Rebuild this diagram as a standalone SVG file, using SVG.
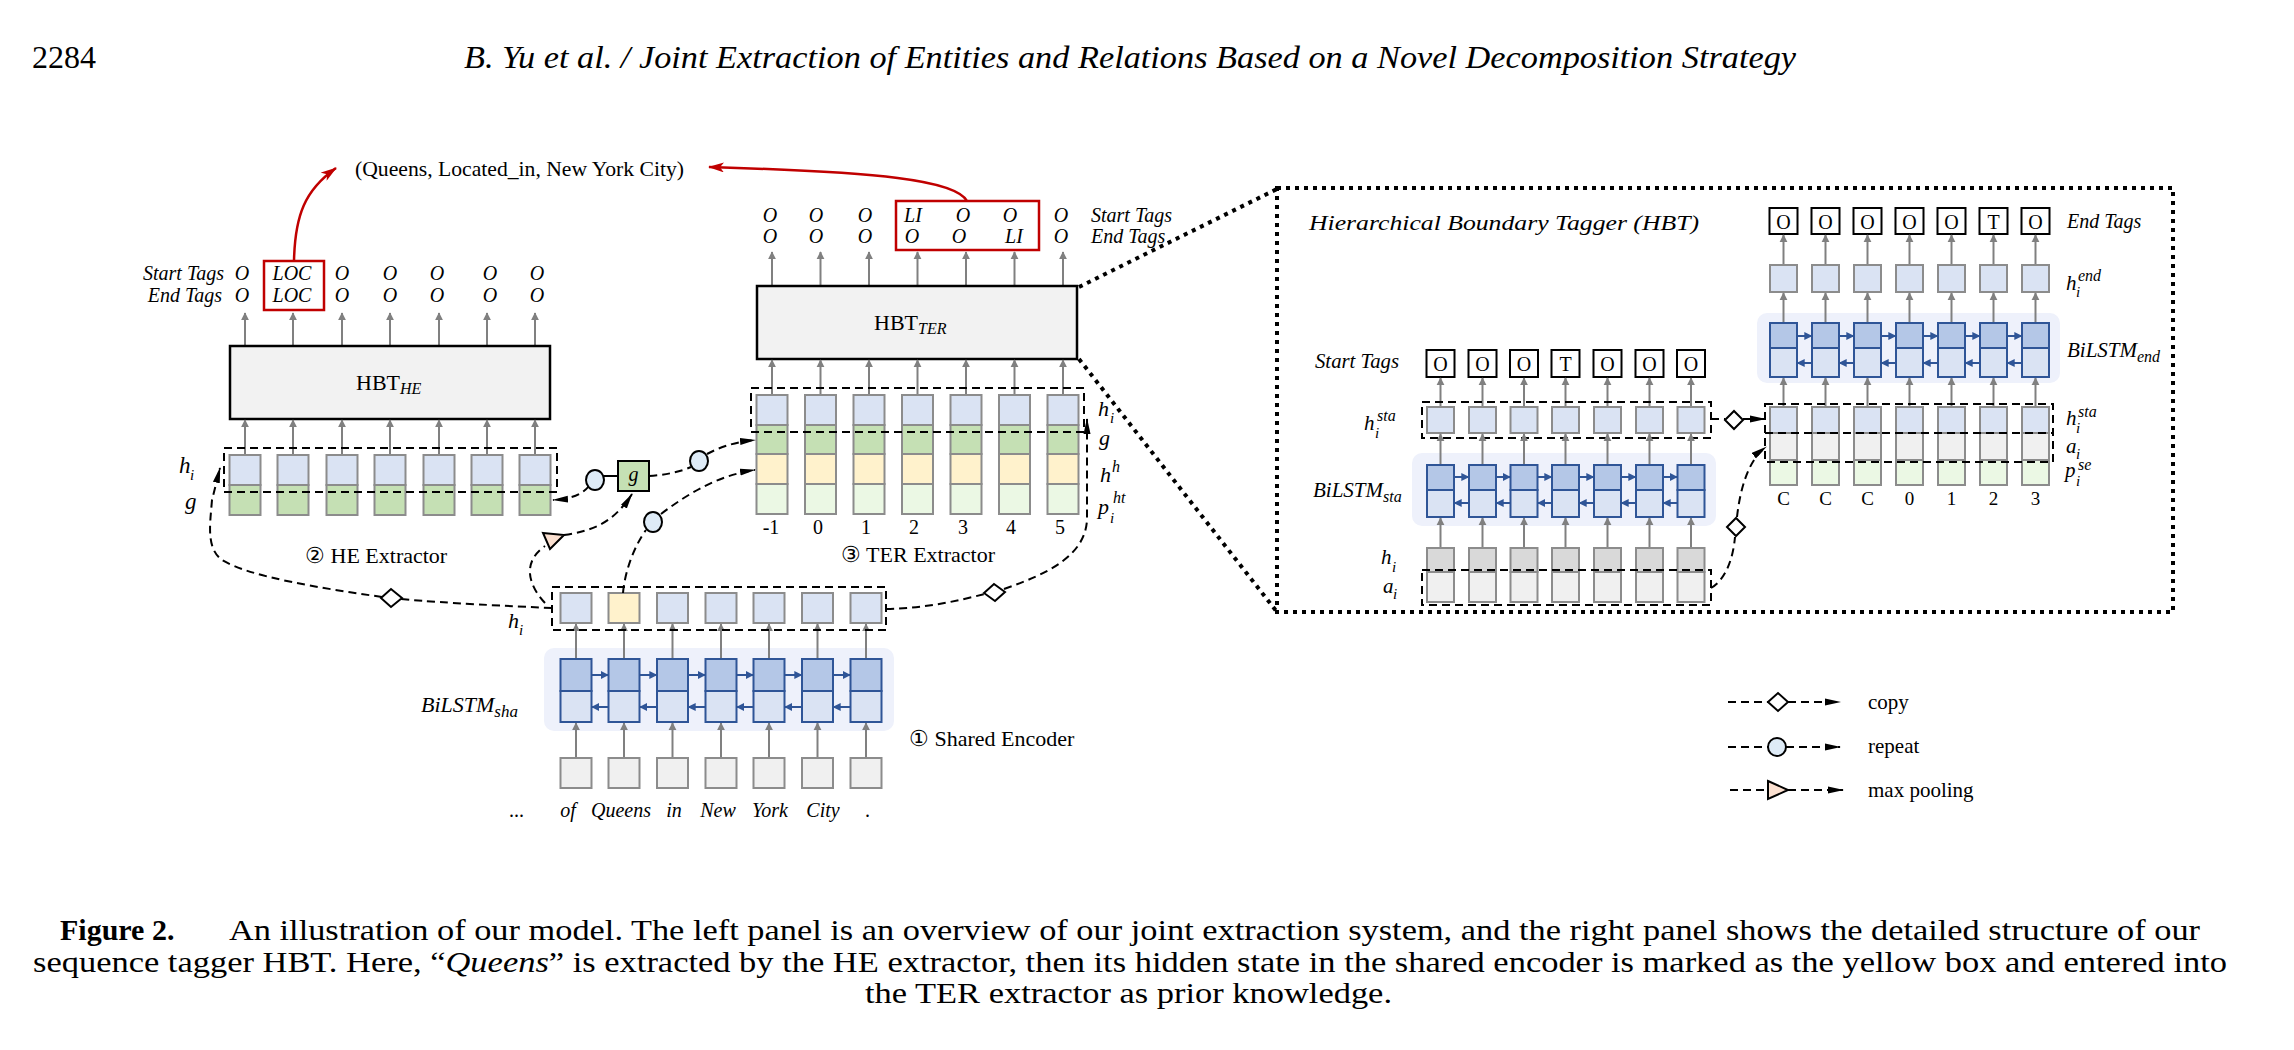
<svg xmlns="http://www.w3.org/2000/svg" width="2294" height="1050" viewBox="0 0 2294 1050">
<style>
.t{font-family:"Liberation Serif","Times New Roman",Times,serif;fill:#000}
.it{font-style:italic}
.cb{fill:#dae3f3;stroke:#8c8c8c;stroke-width:2}
.cg{fill:#c5e0b4;stroke:#8c8c8c;stroke-width:2}
.cy{fill:#fff2cc;stroke:#8c8c8c;stroke-width:2}
.cl{fill:#ebf8e4;stroke:#8c8c8c;stroke-width:2}
.cw{fill:#f0f0f0;stroke:#8c8c8c;stroke-width:2}
.cd{fill:#d9d9d9;stroke:#8c8c8c;stroke-width:2}
.lt{fill:#b4c7e7;stroke:#2f5597;stroke-width:2}
.lb{fill:#dae3f3;stroke:#2f5597;stroke-width:2}
.bg{fill:#eef1fb}
.ga{stroke:#808080;stroke-width:2;fill:none;marker-end:url(#ag)}
.ba{stroke:#2f5597;stroke-width:2;fill:none;marker-end:url(#ab)}
.dsh{fill:none;stroke:#000;stroke-width:2;stroke-dasharray:8 5}
.dc{fill:none;stroke:#000;stroke-width:2;stroke-dasharray:8 5;marker-end:url(#ak)}
.dot{fill:none;stroke:#000;stroke-width:4;stroke-dasharray:4 5}
.tb{fill:#fff;stroke:#000;stroke-width:2}
.hbt{fill:#f2f2f2;stroke:#000;stroke-width:2.5}
.red{fill:none;stroke:#c00000;stroke-width:2.5}
.dia{fill:#fff;stroke:#000;stroke-width:2}
.rep{fill:#deebf7;stroke:#000;stroke-width:2}
.mp{fill:#fbe0d0;stroke:#000;stroke-width:2}
</style>
<defs>
<marker id="ag" viewBox="0 0 10 10" refX="9" refY="5" markerWidth="8" markerHeight="9" markerUnits="userSpaceOnUse" orient="auto"><path d="M0,0 L10,5 L0,10 z" fill="#808080"/></marker>
<marker id="ab" viewBox="0 0 10 10" refX="9" refY="5" markerWidth="8" markerHeight="8" markerUnits="userSpaceOnUse" orient="auto"><path d="M0,0 L10,5 L0,10 z" fill="#2f5597"/></marker>
<marker id="ak" viewBox="0 0 16 8" refX="15" refY="4" markerWidth="16" markerHeight="8" markerUnits="userSpaceOnUse" orient="auto"><path d="M0,0.5 L16,4 L0,7.5 z" fill="#000"/></marker>
<marker id="ar" viewBox="0 0 16 10" refX="15" refY="5" markerWidth="16" markerHeight="10" markerUnits="userSpaceOnUse" orient="auto"><path d="M0,0 L16,5 L0,10 L4,5 z" fill="#c00000"/></marker>
</defs>
<rect width="2294" height="1050" fill="#fff"/>

<g id="header">
<text class="t" x="32" y="68" font-size="32">2284</text>
<text class="t it" x="464" y="68" font-size="32" textLength="1332" lengthAdjust="spacingAndGlyphs">B. Yu et al. / Joint Extraction of Entities and Relations Based on a Novel Decomposition Strategy</text>
</g>

<g id="triple">
<text class="t" x="355" y="176" font-size="21" textLength="329" lengthAdjust="spacingAndGlyphs">(Queens, Located_in, New York City)</text>
</g>

<g id="he-extractor">
<text class="t it" x="224" y="280" font-size="20" text-anchor="end">Start Tags</text>
<text class="t it" x="222" y="302" font-size="20" text-anchor="end">End Tags</text>
<g class="t it" font-size="20" text-anchor="middle">
<text x="242" y="280">O</text><text x="292" y="280">LOC</text><text x="342" y="280">O</text><text x="390" y="280">O</text><text x="437" y="280">O</text><text x="490" y="280">O</text><text x="537" y="280">O</text>
<text x="242" y="302">O</text><text x="292" y="302">LOC</text><text x="342" y="302">O</text><text x="390" y="302">O</text><text x="437" y="302">O</text><text x="490" y="302">O</text><text x="537" y="302">O</text>
</g>
<rect class="red" x="264" y="261" width="60" height="49"/>
<g class="ga">
<line x1="245" y1="346" x2="245" y2="313"/><line x1="293" y1="346" x2="293" y2="313"/><line x1="342" y1="346" x2="342" y2="313"/><line x1="390" y1="346" x2="390" y2="313"/><line x1="439" y1="346" x2="439" y2="313"/><line x1="487" y1="346" x2="487" y2="313"/><line x1="535" y1="346" x2="535" y2="313"/>
</g>
<rect class="hbt" x="230" y="346" width="320" height="73"/>
<text class="t" x="356" y="390" font-size="22">HBT<tspan class="it" font-size="16" dy="4">HE</tspan></text>
<g class="ga">
<line x1="245" y1="455" x2="245" y2="420"/><line x1="293" y1="455" x2="293" y2="420"/><line x1="342" y1="455" x2="342" y2="420"/><line x1="390" y1="455" x2="390" y2="420"/><line x1="439" y1="455" x2="439" y2="420"/><line x1="487" y1="455" x2="487" y2="420"/><line x1="535" y1="455" x2="535" y2="420"/>
</g>
<rect class="cb" x="229.5" y="455" width="31" height="30"/><rect class="cg" x="229.5" y="485" width="31" height="30"/>
<rect class="cb" x="277.5" y="455" width="31" height="30"/><rect class="cg" x="277.5" y="485" width="31" height="30"/>
<rect class="cb" x="326.5" y="455" width="31" height="30"/><rect class="cg" x="326.5" y="485" width="31" height="30"/>
<rect class="cb" x="374.5" y="455" width="31" height="30"/><rect class="cg" x="374.5" y="485" width="31" height="30"/>
<rect class="cb" x="423.5" y="455" width="31" height="30"/><rect class="cg" x="423.5" y="485" width="31" height="30"/>
<rect class="cb" x="471.5" y="455" width="31" height="30"/><rect class="cg" x="471.5" y="485" width="31" height="30"/>
<rect class="cb" x="519.5" y="455" width="31" height="30"/><rect class="cg" x="519.5" y="485" width="31" height="30"/>
<rect class="dsh" x="224" y="448" width="333" height="44"/>
<text class="t it" x="179" y="473" font-size="23">h</text><text class="t it" x="190" y="480" font-size="15">i</text>
<text class="t it" x="185" y="509" font-size="23">g</text>
<text class="t" x="305" y="563" font-size="22">② HE Extractor</text>
</g>

<g id="g-node">
<rect x="618" y="461" width="31" height="30" fill="#c5e0b4" stroke="#000" stroke-width="2"/>
<text class="t it" x="633.5" y="481" font-size="20" text-anchor="middle">g</text>
</g>

<g id="ter-extractor">
<g class="t it" font-size="20" text-anchor="middle">
<text x="770" y="222">O</text><text x="816" y="222">O</text><text x="865" y="222">O</text><text x="913" y="222">LI</text><text x="963" y="222">O</text><text x="1010" y="222">O</text><text x="1061" y="222">O</text>
<text x="770" y="243">O</text><text x="816" y="243">O</text><text x="865" y="243">O</text><text x="912" y="243">O</text><text x="959" y="243">O</text><text x="1014" y="243">LI</text><text x="1061" y="243">O</text>
</g>
<text class="t it" x="1091" y="222" font-size="20">Start Tags</text>
<text class="t it" x="1091" y="243" font-size="20">End Tags</text>
<rect class="red" x="896" y="201" width="143" height="49"/>
<g class="ga">
<line x1="772" y1="286" x2="772" y2="252"/><line x1="820.5" y1="286" x2="820.5" y2="252"/><line x1="869" y1="286" x2="869" y2="252"/><line x1="917.5" y1="286" x2="917.5" y2="252"/><line x1="966" y1="286" x2="966" y2="252"/><line x1="1014.5" y1="286" x2="1014.5" y2="252"/><line x1="1063" y1="286" x2="1063" y2="252"/>
</g>
<rect class="hbt" x="757" y="286" width="320" height="73"/>
<text class="t" x="874" y="330" font-size="22">HBT<tspan class="it" font-size="16" dy="4">TER</tspan></text>
<g class="ga">
<line x1="772" y1="395" x2="772" y2="360"/><line x1="820.5" y1="395" x2="820.5" y2="360"/><line x1="869" y1="395" x2="869" y2="360"/><line x1="917.5" y1="395" x2="917.5" y2="360"/><line x1="966" y1="395" x2="966" y2="360"/><line x1="1014.5" y1="395" x2="1014.5" y2="360"/><line x1="1063" y1="395" x2="1063" y2="360"/>
</g>
<rect class="cb" x="756.5" y="395" width="31" height="30"/><rect class="cg" x="756.5" y="425" width="31" height="29"/><rect class="cy" x="756.5" y="454" width="31" height="30"/><rect class="cl" x="756.5" y="484" width="31" height="30"/>
<rect class="cb" x="805" y="395" width="31" height="30"/><rect class="cg" x="805" y="425" width="31" height="29"/><rect class="cy" x="805" y="454" width="31" height="30"/><rect class="cl" x="805" y="484" width="31" height="30"/>
<rect class="cb" x="853.5" y="395" width="31" height="30"/><rect class="cg" x="853.5" y="425" width="31" height="29"/><rect class="cy" x="853.5" y="454" width="31" height="30"/><rect class="cl" x="853.5" y="484" width="31" height="30"/>
<rect class="cb" x="902" y="395" width="31" height="30"/><rect class="cg" x="902" y="425" width="31" height="29"/><rect class="cy" x="902" y="454" width="31" height="30"/><rect class="cl" x="902" y="484" width="31" height="30"/>
<rect class="cb" x="950.5" y="395" width="31" height="30"/><rect class="cg" x="950.5" y="425" width="31" height="29"/><rect class="cy" x="950.5" y="454" width="31" height="30"/><rect class="cl" x="950.5" y="484" width="31" height="30"/>
<rect class="cb" x="999" y="395" width="31" height="30"/><rect class="cg" x="999" y="425" width="31" height="29"/><rect class="cy" x="999" y="454" width="31" height="30"/><rect class="cl" x="999" y="484" width="31" height="30"/>
<rect class="cb" x="1047.5" y="395" width="31" height="30"/><rect class="cg" x="1047.5" y="425" width="31" height="29"/><rect class="cy" x="1047.5" y="454" width="31" height="30"/><rect class="cl" x="1047.5" y="484" width="31" height="30"/>
<rect class="dsh" x="751" y="388" width="333" height="44"/>
<g class="t" font-size="20" text-anchor="middle">
<text x="771" y="534">-1</text><text x="818" y="534">0</text><text x="866" y="534">1</text><text x="914" y="534">2</text><text x="963" y="534">3</text><text x="1011" y="534">4</text><text x="1060" y="534">5</text>
</g>
<text class="t it" x="1098" y="416" font-size="22">h</text><text class="t it" x="1110" y="423" font-size="15">i</text>
<text class="t it" x="1099" y="445" font-size="22">g</text>
<text class="t it" x="1100" y="482" font-size="22">h</text><text class="t it" x="1112" y="472" font-size="16">h</text>
<text class="t it" x="1098" y="514" font-size="22">p</text><text class="t it" x="1110" y="523" font-size="15">i</text><text class="t it" x="1113" y="503" font-size="16">ht</text>
<text class="t" x="841" y="562" font-size="22">③ TER Extractor</text>
</g>

<g id="shared-encoder">
<rect class="bg" x="544" y="648" width="350" height="83" rx="10"/>
<g class="ga">
<line x1="576" y1="659" x2="576" y2="624"/><line x1="624" y1="659" x2="624" y2="624"/><line x1="672.5" y1="659" x2="672.5" y2="624"/><line x1="721" y1="659" x2="721" y2="624"/><line x1="769" y1="659" x2="769" y2="624"/><line x1="817.5" y1="659" x2="817.5" y2="624"/><line x1="866" y1="659" x2="866" y2="624"/>
<line x1="576" y1="758" x2="576" y2="723"/><line x1="624" y1="758" x2="624" y2="723"/><line x1="672.5" y1="758" x2="672.5" y2="723"/><line x1="721" y1="758" x2="721" y2="723"/><line x1="769" y1="758" x2="769" y2="723"/><line x1="817.5" y1="758" x2="817.5" y2="723"/><line x1="866" y1="758" x2="866" y2="723"/>
</g>
<rect class="cb" x="560.5" y="593" width="31" height="30"/>
<rect class="cy" x="608.5" y="593" width="31" height="30"/>
<rect class="cb" x="657" y="593" width="31" height="30"/>
<rect class="cb" x="705.5" y="593" width="31" height="30"/>
<rect class="cb" x="753.5" y="593" width="31" height="30"/>
<rect class="cb" x="802" y="593" width="31" height="30"/>
<rect class="cb" x="850.5" y="593" width="31" height="30"/>
<rect class="dsh" x="552" y="587" width="334" height="43"/>
<rect class="lt" x="560.5" y="659" width="31" height="32"/><rect class="lb" x="560.5" y="691" width="31" height="31"/>
<rect class="lt" x="608.5" y="659" width="31" height="32"/><rect class="lb" x="608.5" y="691" width="31" height="31"/>
<rect class="lt" x="657" y="659" width="31" height="32"/><rect class="lb" x="657" y="691" width="31" height="31"/>
<rect class="lt" x="705.5" y="659" width="31" height="32"/><rect class="lb" x="705.5" y="691" width="31" height="31"/>
<rect class="lt" x="753.5" y="659" width="31" height="32"/><rect class="lb" x="753.5" y="691" width="31" height="31"/>
<rect class="lt" x="802" y="659" width="31" height="32"/><rect class="lb" x="802" y="691" width="31" height="31"/>
<rect class="lt" x="850.5" y="659" width="31" height="32"/><rect class="lb" x="850.5" y="691" width="31" height="31"/>
<g class="ba">
<line x1="591.5" y1="675" x2="608" y2="675"/><line x1="639.5" y1="675" x2="656.5" y2="675"/><line x1="688" y1="675" x2="705" y2="675"/><line x1="736.5" y1="675" x2="753" y2="675"/><line x1="784.5" y1="675" x2="801.5" y2="675"/><line x1="833" y1="675" x2="850" y2="675"/>
<line x1="608.5" y1="707" x2="592" y2="707"/><line x1="657" y1="707" x2="640" y2="707"/><line x1="705.5" y1="707" x2="688.5" y2="707"/><line x1="753.5" y1="707" x2="737" y2="707"/><line x1="802" y1="707" x2="785" y2="707"/><line x1="850.5" y1="707" x2="833.5" y2="707"/>
</g>
<rect class="cw" x="560.5" y="758" width="31" height="30"/>
<rect class="cw" x="608.5" y="758" width="31" height="30"/>
<rect class="cw" x="657" y="758" width="31" height="30"/>
<rect class="cw" x="705.5" y="758" width="31" height="30"/>
<rect class="cw" x="753.5" y="758" width="31" height="30"/>
<rect class="cw" x="802" y="758" width="31" height="30"/>
<rect class="cw" x="850.5" y="758" width="31" height="30"/>
<g class="t it" font-size="20" text-anchor="middle">
<text x="517" y="817">...</text><text x="568" y="817">of</text><text x="621" y="817">Queens</text><text x="674" y="817">in</text><text x="718" y="817">New</text><text x="770" y="817">York</text><text x="823" y="817">City</text><text x="868" y="817">.</text>
</g>
<text class="t it" x="421" y="712" font-size="22">BiLSTM<tspan font-size="17" dy="5">sha</tspan></text>
<text class="t it" x="508" y="628" font-size="22">h</text><text class="t it" x="519" y="635" font-size="15">i</text>
<text class="t" x="909" y="746" font-size="22">① Shared Encoder</text>
</g>

<g id="hbt-detail">
<rect class="dot" x="1277" y="188" width="896" height="424"/>
<text class="t it" x="1309" y="230" font-size="22" textLength="390" lengthAdjust="spacingAndGlyphs">Hierarchical Boundary Tagger (HBT)</text>
<text class="t it" x="1315" y="368" font-size="20" textLength="84" lengthAdjust="spacingAndGlyphs">Start Tags</text>
<rect class="tb" x="1426.5" y="350" width="28" height="27"/><rect class="tb" x="1468.5" y="350" width="28" height="27"/><rect class="tb" x="1510" y="350" width="28" height="27"/><rect class="tb" x="1551.5" y="350" width="28" height="27"/><rect class="tb" x="1593.5" y="350" width="28" height="27"/><rect class="tb" x="1635.5" y="350" width="28" height="27"/><rect class="tb" x="1677" y="350" width="28" height="27"/>
<g class="t" font-size="20" text-anchor="middle">
<text x="1440.5" y="371">O</text><text x="1482.5" y="371">O</text><text x="1524" y="371">O</text><text x="1565.5" y="371">T</text><text x="1607.5" y="371">O</text><text x="1649.5" y="371">O</text><text x="1691" y="371">O</text>
</g>
<g class="ga">
<line x1="1440.5" y1="407" x2="1440.5" y2="378"/><line x1="1482.5" y1="407" x2="1482.5" y2="378"/><line x1="1524" y1="407" x2="1524" y2="378"/><line x1="1565.5" y1="407" x2="1565.5" y2="378"/><line x1="1607.5" y1="407" x2="1607.5" y2="378"/><line x1="1649.5" y1="407" x2="1649.5" y2="378"/><line x1="1691" y1="407" x2="1691" y2="378"/>
</g>
<rect class="cb" x="1427" y="407" width="27" height="26"/><rect class="cb" x="1469" y="407" width="27" height="26"/><rect class="cb" x="1510.5" y="407" width="27" height="26"/><rect class="cb" x="1552" y="407" width="27" height="26"/><rect class="cb" x="1594" y="407" width="27" height="26"/><rect class="cb" x="1636" y="407" width="27" height="26"/><rect class="cb" x="1677.5" y="407" width="27" height="26"/>
<rect class="dsh" x="1422" y="402" width="289" height="36"/>
<rect class="bg" x="1412" y="453" width="304" height="73" rx="10"/>
<g class="ga">
<line x1="1440.5" y1="465" x2="1440.5" y2="434"/><line x1="1482.5" y1="465" x2="1482.5" y2="434"/><line x1="1524" y1="465" x2="1524" y2="434"/><line x1="1565.5" y1="465" x2="1565.5" y2="434"/><line x1="1607.5" y1="465" x2="1607.5" y2="434"/><line x1="1649.5" y1="465" x2="1649.5" y2="434"/><line x1="1691" y1="465" x2="1691" y2="434"/>
<line x1="1440.5" y1="548" x2="1440.5" y2="518"/><line x1="1482.5" y1="548" x2="1482.5" y2="518"/><line x1="1524" y1="548" x2="1524" y2="518"/><line x1="1565.5" y1="548" x2="1565.5" y2="518"/><line x1="1607.5" y1="548" x2="1607.5" y2="518"/><line x1="1649.5" y1="548" x2="1649.5" y2="518"/><line x1="1691" y1="548" x2="1691" y2="518"/>
</g>
<rect class="lt" x="1427" y="465" width="27" height="25"/><rect class="lb" x="1427" y="490" width="27" height="27"/>
<rect class="lt" x="1469" y="465" width="27" height="25"/><rect class="lb" x="1469" y="490" width="27" height="27"/>
<rect class="lt" x="1510.5" y="465" width="27" height="25"/><rect class="lb" x="1510.5" y="490" width="27" height="27"/>
<rect class="lt" x="1552" y="465" width="27" height="25"/><rect class="lb" x="1552" y="490" width="27" height="27"/>
<rect class="lt" x="1594" y="465" width="27" height="25"/><rect class="lb" x="1594" y="490" width="27" height="27"/>
<rect class="lt" x="1636" y="465" width="27" height="25"/><rect class="lb" x="1636" y="490" width="27" height="27"/>
<rect class="lt" x="1677.5" y="465" width="27" height="25"/><rect class="lb" x="1677.5" y="490" width="27" height="27"/>
<g class="ba">
<line x1="1454" y1="477" x2="1468.5" y2="477"/><line x1="1496" y1="477" x2="1510" y2="477"/><line x1="1537.5" y1="477" x2="1551.5" y2="477"/><line x1="1579" y1="477" x2="1593.5" y2="477"/><line x1="1621" y1="477" x2="1635.5" y2="477"/><line x1="1663" y1="477" x2="1677" y2="477"/>
<line x1="1469" y1="503" x2="1454.5" y2="503"/><line x1="1510.5" y1="503" x2="1496.5" y2="503"/><line x1="1552" y1="503" x2="1538" y2="503"/><line x1="1594" y1="503" x2="1579.5" y2="503"/><line x1="1636" y1="503" x2="1621.5" y2="503"/><line x1="1677.5" y1="503" x2="1663.5" y2="503"/>
</g>
<rect class="cd" x="1427" y="548" width="27" height="24"/><rect class="cw" x="1427" y="572" width="27" height="30"/>
<rect class="cd" x="1469" y="548" width="27" height="24"/><rect class="cw" x="1469" y="572" width="27" height="30"/>
<rect class="cd" x="1510.5" y="548" width="27" height="24"/><rect class="cw" x="1510.5" y="572" width="27" height="30"/>
<rect class="cd" x="1552" y="548" width="27" height="24"/><rect class="cw" x="1552" y="572" width="27" height="30"/>
<rect class="cd" x="1594" y="548" width="27" height="24"/><rect class="cw" x="1594" y="572" width="27" height="30"/>
<rect class="cd" x="1636" y="548" width="27" height="24"/><rect class="cw" x="1636" y="572" width="27" height="30"/>
<rect class="cd" x="1677.5" y="548" width="27" height="24"/><rect class="cw" x="1677.5" y="572" width="27" height="30"/>
<rect class="dsh" x="1422" y="570" width="289" height="35"/>
<text class="t it" x="1364" y="430" font-size="21">h</text><text class="t it" x="1375" y="438" font-size="15">i</text><text class="t it" x="1377" y="421" font-size="16">sta</text>
<text class="t it" x="1313" y="497" font-size="21">BiLSTM<tspan font-size="16" dy="5">sta</tspan></text>
<text class="t it" x="1381" y="564" font-size="21">h</text><text class="t it" x="1392" y="572" font-size="15">i</text>
<text class="t it" x="1383" y="593" font-size="21">a</text><text class="t it" x="1393" y="599" font-size="15">i</text>
<rect class="tb" x="1769.5" y="208" width="28" height="26"/><rect class="tb" x="1811.5" y="208" width="28" height="26"/><rect class="tb" x="1853.5" y="208" width="28" height="26"/><rect class="tb" x="1895.5" y="208" width="28" height="26"/><rect class="tb" x="1937.5" y="208" width="28" height="26"/><rect class="tb" x="1979.5" y="208" width="28" height="26"/><rect class="tb" x="2021.5" y="208" width="28" height="26"/>
<g class="t" font-size="20" text-anchor="middle">
<text x="1783.5" y="229">O</text><text x="1825.5" y="229">O</text><text x="1867.5" y="229">O</text><text x="1909.5" y="229">O</text><text x="1951.5" y="229">O</text><text x="1993.5" y="229">T</text><text x="2035.5" y="229">O</text>
</g>
<text class="t it" x="2067" y="228" font-size="20">End Tags</text>
<g class="ga">
<line x1="1783.5" y1="265" x2="1783.5" y2="235"/><line x1="1825.5" y1="265" x2="1825.5" y2="235"/><line x1="1867.5" y1="265" x2="1867.5" y2="235"/><line x1="1909.5" y1="265" x2="1909.5" y2="235"/><line x1="1951.5" y1="265" x2="1951.5" y2="235"/><line x1="1993.5" y1="265" x2="1993.5" y2="235"/><line x1="2035.5" y1="265" x2="2035.5" y2="235"/>
</g>
<rect class="cb" x="1770" y="265" width="27" height="27"/><rect class="cb" x="1812" y="265" width="27" height="27"/><rect class="cb" x="1854" y="265" width="27" height="27"/><rect class="cb" x="1896" y="265" width="27" height="27"/><rect class="cb" x="1938" y="265" width="27" height="27"/><rect class="cb" x="1980" y="265" width="27" height="27"/><rect class="cb" x="2022" y="265" width="27" height="27"/>
<rect class="bg" x="1757" y="313" width="303" height="70" rx="10"/>
<g class="ga">
<line x1="1783.5" y1="323" x2="1783.5" y2="293"/><line x1="1825.5" y1="323" x2="1825.5" y2="293"/><line x1="1867.5" y1="323" x2="1867.5" y2="293"/><line x1="1909.5" y1="323" x2="1909.5" y2="293"/><line x1="1951.5" y1="323" x2="1951.5" y2="293"/><line x1="1993.5" y1="323" x2="1993.5" y2="293"/><line x1="2035.5" y1="323" x2="2035.5" y2="293"/>
<line x1="1783.5" y1="407" x2="1783.5" y2="378"/><line x1="1825.5" y1="407" x2="1825.5" y2="378"/><line x1="1867.5" y1="407" x2="1867.5" y2="378"/><line x1="1909.5" y1="407" x2="1909.5" y2="378"/><line x1="1951.5" y1="407" x2="1951.5" y2="378"/><line x1="1993.5" y1="407" x2="1993.5" y2="378"/><line x1="2035.5" y1="407" x2="2035.5" y2="378"/>
</g>
<rect class="lt" x="1770" y="323" width="27" height="25"/><rect class="lb" x="1770" y="348" width="27" height="29"/>
<rect class="lt" x="1812" y="323" width="27" height="25"/><rect class="lb" x="1812" y="348" width="27" height="29"/>
<rect class="lt" x="1854" y="323" width="27" height="25"/><rect class="lb" x="1854" y="348" width="27" height="29"/>
<rect class="lt" x="1896" y="323" width="27" height="25"/><rect class="lb" x="1896" y="348" width="27" height="29"/>
<rect class="lt" x="1938" y="323" width="27" height="25"/><rect class="lb" x="1938" y="348" width="27" height="29"/>
<rect class="lt" x="1980" y="323" width="27" height="25"/><rect class="lb" x="1980" y="348" width="27" height="29"/>
<rect class="lt" x="2022" y="323" width="27" height="25"/><rect class="lb" x="2022" y="348" width="27" height="29"/>
<g class="ba">
<line x1="1797" y1="336" x2="1811.5" y2="336"/><line x1="1839" y1="336" x2="1853.5" y2="336"/><line x1="1881" y1="336" x2="1895.5" y2="336"/><line x1="1923" y1="336" x2="1937.5" y2="336"/><line x1="1965" y1="336" x2="1979.5" y2="336"/><line x1="2007" y1="336" x2="2021.5" y2="336"/>
<line x1="1812" y1="363" x2="1797.5" y2="363"/><line x1="1854" y1="363" x2="1839.5" y2="363"/><line x1="1896" y1="363" x2="1881.5" y2="363"/><line x1="1938" y1="363" x2="1923.5" y2="363"/><line x1="1980" y1="363" x2="1965.5" y2="363"/><line x1="2022" y1="363" x2="2007.5" y2="363"/>
</g>
<rect class="cb" x="1770" y="407" width="27" height="26"/><rect class="cw" x="1770" y="433" width="27" height="27"/><rect class="cl" x="1770" y="460" width="27" height="25"/>
<rect class="cb" x="1812" y="407" width="27" height="26"/><rect class="cw" x="1812" y="433" width="27" height="27"/><rect class="cl" x="1812" y="460" width="27" height="25"/>
<rect class="cb" x="1854" y="407" width="27" height="26"/><rect class="cw" x="1854" y="433" width="27" height="27"/><rect class="cl" x="1854" y="460" width="27" height="25"/>
<rect class="cb" x="1896" y="407" width="27" height="26"/><rect class="cw" x="1896" y="433" width="27" height="27"/><rect class="cl" x="1896" y="460" width="27" height="25"/>
<rect class="cb" x="1938" y="407" width="27" height="26"/><rect class="cw" x="1938" y="433" width="27" height="27"/><rect class="cl" x="1938" y="460" width="27" height="25"/>
<rect class="cb" x="1980" y="407" width="27" height="26"/><rect class="cw" x="1980" y="433" width="27" height="27"/><rect class="cl" x="1980" y="460" width="27" height="25"/>
<rect class="cb" x="2022" y="407" width="27" height="26"/><rect class="cw" x="2022" y="433" width="27" height="27"/><rect class="cl" x="2022" y="460" width="27" height="25"/>
<rect class="dsh" x="1765" y="404" width="288" height="58"/>
<path class="dsh" d="M1765 433H2053"/>
<g class="t" font-size="19" text-anchor="middle">
<text x="1783.5" y="505">C</text><text x="1825.5" y="505">C</text><text x="1867.5" y="505">C</text><text x="1909.5" y="505">0</text><text x="1951.5" y="505">1</text><text x="1993.5" y="505">2</text><text x="2035.5" y="505">3</text>
</g>
<text class="t it" x="2066" y="290" font-size="21">h</text><text class="t it" x="2076" y="297" font-size="15">i</text><text class="t it" x="2078" y="281" font-size="16">end</text>
<text class="t it" x="2067" y="357" font-size="21">BiLSTM<tspan font-size="16" dy="5">end</tspan></text>
<text class="t it" x="2066" y="425" font-size="21">h</text><text class="t it" x="2076" y="433" font-size="15">i</text><text class="t it" x="2078" y="417" font-size="16">sta</text>
<text class="t it" x="2066" y="453" font-size="21">a</text><text class="t it" x="2076" y="459" font-size="15">i</text>
<text class="t it" x="2065" y="477" font-size="21">p</text><text class="t it" x="2076" y="486" font-size="15">i</text><text class="t it" x="2078" y="470" font-size="16">se</text>
</g>

<g id="connectors">
<path class="red" d="M294 261C295 215 305 190 336 168" marker-end="url(#ar)"/>
<path class="red" d="M967 201C955 180 880 172 709 167" marker-end="url(#ar)"/>
<path class="dot" d="M1079 287L1277 189M1079 359L1277 612"/>
<path class="dsh" d="M552 608C480 605 420 601 400 599"/>
<path class="dc" d="M382 597C320 588 250 577 222 560C206 548 210 525 212 500L220 468"/>
<polygon class="dia" points="381,598 391,589 402,598 391,607"/>
<path class="dsh" d="M886 609C930 608 960 600 985 594"/>
<path class="dc" d="M1004 589C1050 573 1085 555 1087 520L1087 419"/>
<polygon class="dia" points="984,593 994,584 1005,592 995,601"/>
<path class="dsh" d="M545 603C528 585 522 562 545 546"/>
<path class="dc" d="M564 535C590 531 612 525 632 494"/>
<polygon class="mp" points="543,533 564,535 550,549"/>
<path d="M618 476H604" stroke="#000" stroke-width="2"/>
<path class="dc" d="M589 486C582 495 570 499 553 500"/>
<ellipse class="rep" cx="595" cy="480" rx="9" ry="10"/>
<path class="dsh" d="M649 476C665 475 680 472 691 467"/>
<path class="dc" d="M707 454C720 447 735 442 755 440"/>
<ellipse class="rep" cx="699" cy="461" rx="9" ry="10"/>
<path class="dsh" d="M623 593C625 570 635 545 646 530"/>
<path class="dc" d="M661 514C690 492 720 475 755 470"/>
<ellipse class="rep" cx="653" cy="522" rx="9" ry="10"/>
<path class="dsh" d="M1711 419H1725"/>
<path class="dc" d="M1743 419H1765"/>
<polygon class="dia" points="1725,420 1734,411 1743,420 1734,429"/>
<path class="dsh" d="M1711 588C1725 580 1733 560 1735 537"/>
<path class="dc" d="M1737 517C1740 490 1748 460 1766 447"/>
<polygon class="dia" points="1727,527 1736,518 1745,527 1736,536"/>
</g>

<g id="legend">
<path class="dsh" d="M1728 702H1768"/><path class="dc" d="M1788 702H1840"/>
<polygon class="dia" points="1768,702 1778,693 1788,702 1778,711"/>
<text class="t" x="1868" y="709" font-size="21">copy</text>
<path class="dsh" d="M1728 747H1768"/><path class="dc" d="M1786 747H1840"/>
<ellipse class="rep" cx="1777" cy="747" rx="9" ry="9"/>
<text class="t" x="1868" y="753" font-size="21">repeat</text>
<path class="dsh" d="M1730 790H1768"/><path class="dc" d="M1788 790H1843"/>
<polygon class="mp" points="1768,781 1788,790 1768,799"/>
<text class="t" x="1868" y="797" font-size="21">max pooling</text>
</g>

<g id="caption">
<text class="t" x="60" y="940" font-size="30" font-weight="bold">Figure 2.</text>
<text class="t" x="229" y="940" font-size="30" textLength="1971" lengthAdjust="spacingAndGlyphs">An illustration of our model. The left panel is an overview of our joint extraction system, and the right panel shows the detailed structure of our</text>
<text class="t" x="33" y="972" font-size="30" textLength="2194" lengthAdjust="spacingAndGlyphs">sequence tagger HBT. Here, “<tspan class="it">Queens</tspan>” is extracted by the HE extractor, then its hidden state in the shared encoder is marked as the yellow box and entered into</text>
<text class="t" x="865" y="1003" font-size="30" textLength="527" lengthAdjust="spacingAndGlyphs">the TER extractor as prior knowledge.</text>
</g>
</svg>
